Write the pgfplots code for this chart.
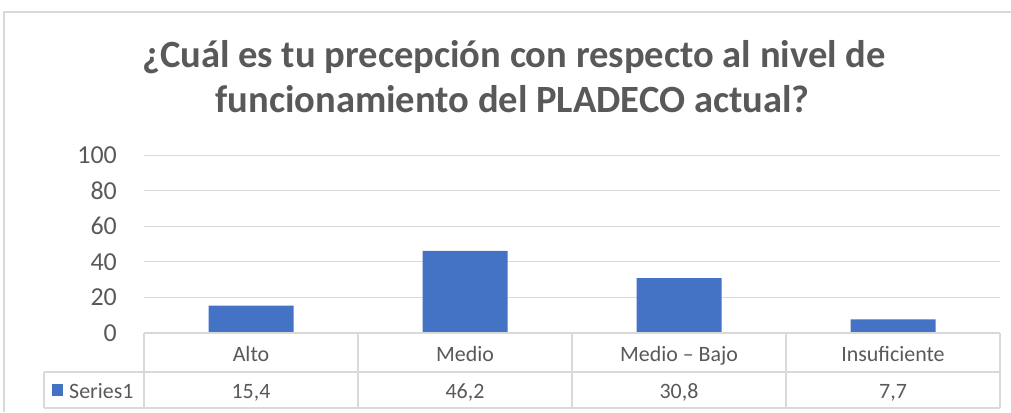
\documentclass[border=0pt]{standalone}
\usepackage{pgfplots}
\pgfplotsset{compat=1.18}
\usepackage{fontspec}
\setmainfont{Carlito}
\definecolor{txt}{HTML}{595959}
\definecolor{grd}{HTML}{D9D9D9}
\definecolor{barc}{HTML}{4472C4}
\begin{document}
\begin{tikzpicture}[x=1bp,y=1bp]
\useasboundingbox (0,0) rectangle (1011,412);
\draw[grd, line width=1.5bp] (4,0) -- (4,400) -- (1011,400);
\node[anchor=base, inner sep=0pt, font=\fontsize{38.7}{44}\selectfont\bfseries, text=txt] at (514,345) {¿Cuál es tu precepción con respecto al nivel de};
\node[anchor=base, inner sep=0pt, font=\fontsize{38.7}{44}\selectfont\bfseries, text=txt] at (512.5,300) {funcionamiento del PLADECO actual?};
\begin{axis}[at={(144bp,79bp)}, anchor=south west, scale only axis,
  width=856bp, height=178bp,
  xmin=-0.5, xmax=3.5, ymin=0, ymax=100,
  ytick={0,20,...,100},
  ymajorgrids, grid style={grd, line width=1bp},
  axis line style={draw=none},
  major tick length=0pt,
  xtick=data,
  xticklabels={Alto,Medio,Medio -- Bajo,Insuficiente},
  xticklabel style={anchor=base, inner sep=0pt, yshift=-28bp, font=\fontsize{22}{26}\selectfont, text=txt},
  yticklabel style={anchor=east, inner sep=0pt, xshift=-27bp, font=\fontsize{26}{30}\selectfont, text=txt},
  /pgf/number format/assume math mode=true,
  clip=false]
\addplot[ybar, bar width=85bp, fill=barc, draw=none] coordinates {(0,15.4) (1,46.2) (2,30.8) (3,7.7)};
\end{axis}
\begin{scope}[grd, line width=1.2bp]
\draw (144,79) -- (1000,79);
\draw (44,40) -- (1000,40);
\draw (44,4) -- (1000,4);
\foreach \xx in {144,358,572,786,1000} {\draw (\xx,79) -- (\xx,4);}
\draw (44,40) -- (44,4);
\end{scope}
\fill[barc] (52,16) rectangle (63,28);
\node[anchor=base west, inner sep=0pt, font=\fontsize{22}{26}\selectfont, text=txt] at (69,14) {Series1};
\foreach \xx/\vv in {251/{15,4},465/{46,2},679/{30,8},893/{7,7}} {
  \node[anchor=base, inner sep=0pt, font=\fontsize{22}{26}\selectfont, text=txt] at (\xx,14) {\vv};
}
\end{tikzpicture}
\end{document}
